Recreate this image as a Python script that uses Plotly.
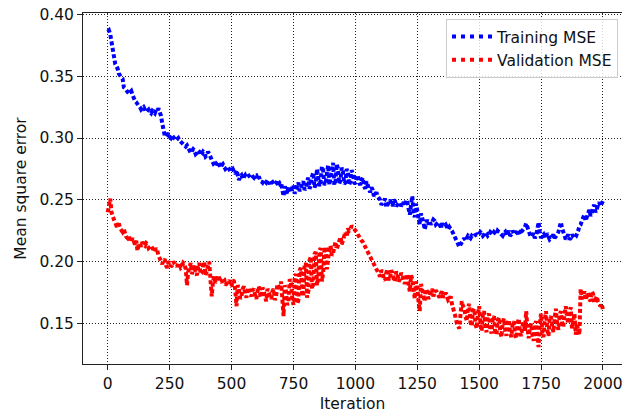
import plotly.graph_objects as go

# Samples logged every 10 iterations, plus the readings taken half-way between them
iterations = list(range(0, 2001, 10))
mid_iterations = list(range(5, 2000, 10))

train_mse = [
    0.386, 0.384, 0.370, 0.360, 0.356, 0.350, 0.348, 0.340, 0.338, 0.337,
    0.335, 0.330, 0.327, 0.325, 0.324, 0.323, 0.322, 0.321, 0.322, 0.320,
    0.322, 0.321, 0.312, 0.302, 0.303, 0.301, 0.302, 0.300, 0.299, 0.298,
    0.297, 0.295, 0.294, 0.290, 0.289, 0.290, 0.288, 0.289, 0.287, 0.288,
    0.286, 0.287, 0.281, 0.278, 0.280, 0.279, 0.278, 0.277, 0.276, 0.275,
    0.274, 0.273, 0.274, 0.266, 0.270, 0.269, 0.268, 0.270, 0.271, 0.268,
    0.270, 0.269, 0.265, 0.266, 0.264, 0.265, 0.266, 0.264, 0.263, 0.265,
    0.264, 0.253, 0.258, 0.261, 0.256, 0.262, 0.258, 0.264, 0.259, 0.265,
    0.260, 0.268, 0.262, 0.272, 0.263, 0.270, 0.266, 0.274, 0.264, 0.278,
    0.267, 0.280, 0.265, 0.275, 0.266, 0.273, 0.264, 0.272, 0.265, 0.271,
    0.263, 0.270, 0.262, 0.268, 0.259, 0.262, 0.256, 0.258, 0.255, 0.253,
    0.250, 0.247, 0.251, 0.246, 0.250, 0.245, 0.249, 0.246, 0.248, 0.247,
    0.245, 0.248, 0.238, 0.253, 0.236, 0.242, 0.230, 0.236, 0.226, 0.234,
    0.233, 0.232, 0.233, 0.231, 0.230, 0.231, 0.229, 0.228, 0.228, 0.225,
    0.221, 0.217, 0.212, 0.216, 0.219, 0.219, 0.220, 0.221, 0.221, 0.222,
    0.222, 0.223, 0.222, 0.223, 0.222, 0.223, 0.224, 0.222, 0.224, 0.222,
    0.223, 0.221, 0.225, 0.222, 0.224, 0.223, 0.225, 0.224, 0.226, 0.231,
    0.225, 0.220, 0.223, 0.221, 0.232, 0.219, 0.222, 0.220, 0.221, 0.219,
    0.222, 0.220, 0.224, 0.232, 0.224, 0.218, 0.222, 0.219, 0.221, 0.220,
    0.225, 0.230, 0.236, 0.233, 0.240, 0.237, 0.244, 0.240, 0.246, 0.245,
    0.249,
]

train_mse_mid = [
    0.387, 0.377, 0.364, 0.358, 0.352, 0.349, 0.341, 0.339, 0.336, 0.338,
    0.331, 0.329, 0.326, 0.323, 0.325, 0.321, 0.323, 0.320, 0.321, 0.323,
    0.324, 0.318, 0.304, 0.301, 0.304, 0.300, 0.301, 0.298, 0.300, 0.297,
    0.296, 0.293, 0.291, 0.288, 0.291, 0.287, 0.290, 0.286, 0.289, 0.285,
    0.289, 0.284, 0.280, 0.277, 0.281, 0.276, 0.279, 0.275, 0.277, 0.273,
    0.275, 0.271, 0.268, 0.269, 0.267, 0.270, 0.269, 0.271, 0.269, 0.270,
    0.267, 0.266, 0.264, 0.265, 0.266, 0.263, 0.265, 0.262, 0.266, 0.263,
    0.257, 0.261, 0.255, 0.259, 0.260, 0.255, 0.262, 0.257, 0.263, 0.258,
    0.265, 0.259, 0.269, 0.260, 0.275, 0.261, 0.277, 0.262, 0.272, 0.262,
    0.274, 0.262, 0.279, 0.263, 0.276, 0.263, 0.275, 0.262, 0.274, 0.264,
    0.268, 0.264, 0.266, 0.261, 0.265, 0.258, 0.260, 0.253, 0.256, 0.251,
    0.246, 0.249, 0.244, 0.248, 0.247, 0.250, 0.245, 0.247, 0.245, 0.248,
    0.250, 0.243, 0.246, 0.240, 0.247, 0.234, 0.239, 0.232, 0.231, 0.230,
    0.230, 0.234, 0.230, 0.232, 0.228, 0.229, 0.230, 0.226, 0.227, 0.223,
    0.219, 0.215, 0.214, 0.218, 0.217, 0.221, 0.219, 0.220, 0.222, 0.221,
    0.224, 0.221, 0.224, 0.221, 0.224, 0.222, 0.223, 0.225, 0.223, 0.221,
    0.224, 0.223, 0.221, 0.225, 0.222, 0.226, 0.222, 0.225, 0.228, 0.227,
    0.222, 0.221, 0.219, 0.226, 0.224, 0.221, 0.219, 0.223, 0.218, 0.221,
    0.219, 0.222, 0.229, 0.227, 0.221, 0.220, 0.218, 0.222, 0.219, 0.222,
    0.229, 0.233, 0.238, 0.236, 0.242, 0.239, 0.246, 0.242, 0.248, 0.247,
]

val_mse = [
    0.240, 0.251, 0.236, 0.232, 0.229, 0.227, 0.224, 0.222, 0.219, 0.217,
    0.219, 0.214, 0.209, 0.215, 0.216, 0.213, 0.214, 0.212, 0.211, 0.208,
    0.209, 0.202, 0.198, 0.202, 0.195, 0.200, 0.197, 0.199, 0.196, 0.198,
    0.196, 0.198, 0.181, 0.196, 0.190, 0.197, 0.189, 0.199, 0.191, 0.200,
    0.192, 0.200, 0.172, 0.188, 0.185, 0.187, 0.183, 0.186, 0.182, 0.185,
    0.180, 0.184, 0.164, 0.178, 0.172, 0.180, 0.171, 0.179, 0.172, 0.178,
    0.170, 0.180, 0.171, 0.177, 0.168, 0.176, 0.170, 0.178, 0.172, 0.180,
    0.184, 0.156, 0.176, 0.168, 0.183, 0.165, 0.190, 0.169, 0.195, 0.172,
    0.199, 0.176, 0.204, 0.182, 0.208, 0.186, 0.211, 0.191, 0.212, 0.204,
    0.213, 0.207, 0.216, 0.213, 0.220, 0.217, 0.224, 0.227, 0.226, 0.228,
    0.226, 0.222, 0.219, 0.216, 0.212, 0.208, 0.204, 0.199, 0.196, 0.192,
    0.188, 0.192, 0.185, 0.194, 0.187, 0.191, 0.184, 0.190, 0.186, 0.189,
    0.182, 0.190, 0.176, 0.186, 0.170, 0.181, 0.160, 0.178, 0.168, 0.176,
    0.172, 0.178, 0.174, 0.175, 0.171, 0.176, 0.173, 0.172, 0.170, 0.166,
    0.160, 0.150, 0.146, 0.168, 0.162, 0.152, 0.166, 0.148, 0.162, 0.146,
    0.164, 0.144, 0.160, 0.143, 0.158, 0.142, 0.156, 0.141, 0.155, 0.139,
    0.154, 0.140, 0.153, 0.139, 0.152, 0.138, 0.154, 0.140, 0.151, 0.160,
    0.138, 0.150, 0.136, 0.152, 0.131, 0.158, 0.139, 0.160, 0.140, 0.156,
    0.143, 0.162, 0.145, 0.160, 0.147, 0.164, 0.150, 0.163, 0.152, 0.141,
    0.145, 0.178, 0.172, 0.169, 0.175, 0.168, 0.174, 0.170, 0.168, 0.164,
    0.161,
]

val_mse_mid = [
    0.246, 0.240, 0.234, 0.229, 0.231, 0.225, 0.226, 0.220, 0.221, 0.216,
    0.216, 0.217, 0.214, 0.212, 0.214, 0.215, 0.211, 0.213, 0.209, 0.211,
    0.205, 0.200, 0.201, 0.197, 0.199, 0.196, 0.200, 0.197, 0.199, 0.195,
    0.199, 0.194, 0.192, 0.199, 0.195, 0.191, 0.196, 0.190, 0.197, 0.189,
    0.196, 0.185, 0.184, 0.183, 0.189, 0.184, 0.187, 0.181, 0.184, 0.181,
    0.185, 0.177, 0.181, 0.170, 0.178, 0.174, 0.177, 0.174, 0.177, 0.173,
    0.176, 0.174, 0.179, 0.172, 0.178, 0.172, 0.176, 0.169, 0.182, 0.177,
    0.170, 0.181, 0.165, 0.186, 0.171, 0.188, 0.166, 0.193, 0.175, 0.197,
    0.171, 0.201, 0.178, 0.206, 0.181, 0.209, 0.184, 0.210, 0.194, 0.210,
    0.205, 0.214, 0.210, 0.218, 0.214, 0.222, 0.220, 0.225, 0.229, 0.227,
    0.224, 0.220, 0.217, 0.214, 0.210, 0.206, 0.201, 0.197, 0.194, 0.190,
    0.193, 0.186, 0.191, 0.185, 0.193, 0.186, 0.192, 0.184, 0.191, 0.185,
    0.187, 0.181, 0.189, 0.178, 0.184, 0.168, 0.182, 0.171, 0.178, 0.170,
    0.176, 0.172, 0.177, 0.172, 0.174, 0.171, 0.175, 0.169, 0.172, 0.163,
    0.155, 0.147, 0.158, 0.164, 0.156, 0.163, 0.151, 0.160, 0.150, 0.158,
    0.150, 0.157, 0.146, 0.156, 0.145, 0.154, 0.143, 0.152, 0.144, 0.150,
    0.145, 0.150, 0.143, 0.149, 0.141, 0.150, 0.142, 0.148, 0.144, 0.147,
    0.147, 0.141, 0.149, 0.139, 0.150, 0.143, 0.153, 0.145, 0.154, 0.148,
    0.155, 0.150, 0.157, 0.151, 0.158, 0.155, 0.160, 0.146, 0.158, 0.150,
    0.141, 0.170, 0.176, 0.172, 0.170, 0.176, 0.167, 0.172, 0.165, 0.166,
]

series_names = ["Training MSE", "Validation MSE"]
series_colors = ["#0000ff", "#ff0000"]

x_ticks = [0, 250, 500, 750, 1000, 1250, 1500, 1750, 2000]
y_ticks = [0.15, 0.20, 0.25, 0.30, 0.35, 0.40]
y_tick_text = ["0.15", "0.20", "0.25", "0.30", "0.35", "0.40"]

FONT = "DejaVu Sans"
DATA_DOTS = "4px,2.5px"     # tight dots so noisy stretches read as a band
LEGEND_DOTS = "4px,5px"     # looser dots for the legend sample


def merged(steps, values, mid_steps, mid_values):
    """Put the on-step and half-step readings back in iteration order."""
    pairs = sorted(list(zip(steps, values)) + list(zip(mid_steps, mid_values)))
    return [p[0] for p in pairs], [p[1] for p in pairs]


series = [
    merged(iterations, train_mse, mid_iterations, train_mse_mid),
    merged(iterations, val_mse, mid_iterations, val_mse_mid),
]

fig = go.Figure()
for name, color, (xs, ys) in zip(series_names, series_colors, series):
    fig.add_trace(go.Scatter(
        x=xs, y=ys, mode="lines", name=name, showlegend=False,
        line=dict(color=color, width=4, dash=DATA_DOTS),
    ))
for name, color in zip(series_names, series_colors):
    fig.add_trace(go.Scatter(
        x=[None], y=[None], mode="lines", name=name,
        line=dict(color=color, width=4, dash=LEGEND_DOTS),
    ))

axis_common = dict(
    showgrid=True, gridcolor="#222222", gridwidth=1, griddash="1px,2px",
    showline=True, linecolor="#222222", linewidth=1,
    ticks="outside", ticklen=5, tickwidth=1, tickcolor="#222222",
    tickfont=dict(family=FONT, size=15.5, color="#111111"),
    ticklabeloverflow="allow",
    zeroline=False,
)

fig.update_layout(
    width=622, height=417,
    margin=dict(l=83, r=0, t=13, b=53, autoexpand=False),
    paper_bgcolor="white", plot_bgcolor="white",
    font=dict(family=FONT, size=15.5, color="#111111"),
    xaxis=dict(
        axis_common, range=[-100, 2077], tickvals=x_ticks, mirror=True,
        title=dict(text="Iteration", font=dict(family=FONT, size=15.5), standoff=6),
    ),
    yaxis=dict(
        axis_common, range=[0.1173, 0.4011], tickvals=y_ticks,
        ticktext=y_tick_text, mirror=False,
        title=dict(text="Mean square error", font=dict(family=FONT, size=15.5), standoff=8),
    ),
    legend=dict(
        x=0.9926, y=0.983, xanchor="right", yanchor="top",
        bgcolor="rgba(255,255,255,0.8)", bordercolor="#cccccc", borderwidth=1,
        font=dict(family=FONT, size=15.5, color="#111111"),
        tracegroupgap=0, itemwidth=40,
    ),
    showlegend=True,
)

fig.write_html("out.html")
